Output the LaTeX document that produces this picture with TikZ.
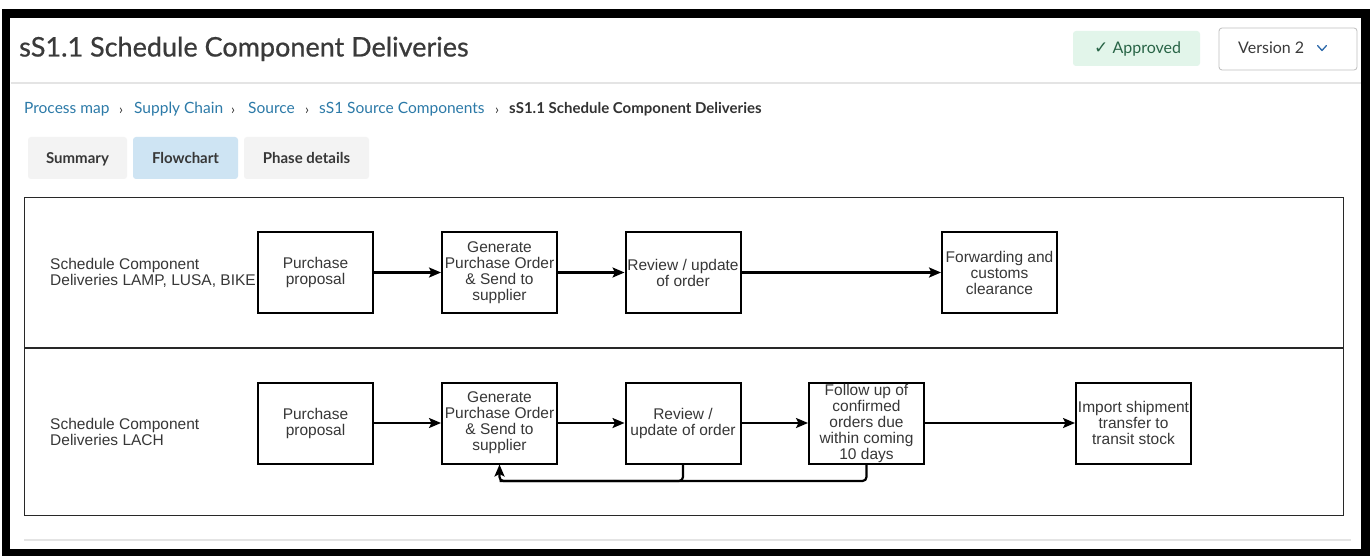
\documentclass[tikz,border=0pt]{standalone}
\usepackage{fontspec}
\setmainfont{Lato}
\newfontfamily\titlefont[FakeBold=0.7]{Lato}
\newfontfamily\flowfont{Liberation Sans}
\newfontfamily\symfont{DejaVu Sans}
\usetikzlibrary{arrows.meta}

\definecolor{titlegray}{RGB}{58,58,58}
\definecolor{linkblue}{RGB}{44,122,168}
\definecolor{crumbgray}{RGB}{50,50,50}
\definecolor{rulegray}{RGB}{228,228,228}
\definecolor{okbg}{RGB}{226,245,234}
\definecolor{okfg}{RGB}{40,100,70}
\definecolor{btnborder}{RGB}{190,190,190}
\definecolor{chevblue}{RGB}{45,105,170}
\definecolor{tabgray}{RGB}{243,243,243}
\definecolor{tabblue}{RGB}{206,228,243}
\definecolor{tabtext}{RGB}{55,55,55}
\definecolor{flowtext}{RGB}{55,55,55}
\definecolor{panelline}{RGB}{40,40,40}

\tikzset{
  crumb/.style={anchor=base west, inner sep=0pt, text=linkblue, font=\fontsize{15.5}{18}\selectfont},
  crumbsep/.style={anchor=base, inner sep=0pt, text=crumbgray, font=\fontsize{14}{18}\selectfont},
  tab/.style={rounded corners=3pt, minimum height=42pt, text height=11pt, text depth=0pt,
    text=tabtext, font=\bfseries\fontsize{15}{18}\selectfont},
  flowbox/.style={draw=black, line width=2pt, minimum width=115pt, minimum height=81pt,
    inner sep=0pt, align=center, text=flowtext, font=\flowfont\fontsize{15.5}{16}\selectfont},
  lanelabel/.style={anchor=west, align=left, inner sep=0pt, text=flowtext, font=\flowfont\fontsize{15.5}{16}\selectfont},
  flowarrow/.style={line width=2.2pt, -{Stealth[length=12pt,width=10pt,inset=2.5pt]}},
  flowline/.style={line width=2.2pt}
}

\begin{document}
\begin{tikzpicture}[x=1pt,y=-1pt]
\useasboundingbox (0,0) rectangle (1371,556);
\fill[white] (0,0) rectangle (1371,556);

% screenshot frame
\draw[black, line width=8.5pt] (6,13.5) rectangle (1365.5,553);

% page header
\node[anchor=base west, inner sep=0pt, text=titlegray, font=\titlefont\fontsize{27}{32}\selectfont] (title) at (19,56.5) {sS1.1 Schedule Component Deliveries};
\draw[rulegray, line width=1.5pt] (10.5,83) -- (1361,83);

\node[fill=okbg, rounded corners=3pt, minimum width=127pt, minimum height=35pt, inner sep=0pt] (approved) at (1136.5,48.5) {};
\node[anchor=base west, inner sep=0pt, text=okfg, font=\fontsize{16}{18}\selectfont] (approvedtxt) at (1094,54) {{\symfont\fontsize{17}{18}\selectfont ✓} Approved};

\node[draw=btnborder, line width=0.8pt, rounded corners=3pt, minimum width=138pt, minimum height=42pt, inner sep=0pt] (version) at (1288,49) {};
\node[anchor=base west, inner sep=0pt, text=titlegray, font=\fontsize{16}{18}\selectfont] (versiontxt) at (1238,54) {Version 2};
\coordinate (chev) at (1322,48);
\draw[chevblue, line width=1.3pt, line cap=round, line join=round] ([shift={(-4.5,-2.5)}]chev) -- ([shift={(0,2.5)}]chev) -- ([shift={(4.5,-2.5)}]chev);

% breadcrumb trail
\node[crumb] (c1) at (24,114) {Process map};
\node[crumbsep] (s1) at (121,114.5) {›};
\node[crumb] (c2) at (134,114) {Supply Chain};
\node[crumbsep] (s2) at (233,114.5) {›};
\node[crumb] (c3) at (248,114) {Source};
\node[crumbsep] (s3) at (307,114.5) {›};
\node[crumb] (c4) at (319,114) {sS1 Source Components};
\node[crumbsep] (s4) at (497,114.5) {›};
\node[crumb, text=crumbgray, font=\bfseries\fontsize{15}{18}\selectfont] (c5) at (509,114) {sS1.1 Schedule Component Deliveries};

% tabs
\node[tab, fill=tabgray, minimum width=99pt] (tsum) at (77.5,158) {Summary};
\node[tab, fill=tabblue, minimum width=105pt] (tflow) at (185.5,158) {Flowchart};
\node[tab, fill=tabgray, minimum width=125pt] (tphase) at (306.5,158) {Phase details};

% flowchart panel with two lanes
\draw[panelline, line width=1pt] (24,198) rectangle (1343,515);
\draw[panelline, line width=2pt] (24,348) -- (1343,348);
\draw[rulegray, line width=1.2pt] (24,540) -- (1351,540);

% lane 1
\node[lanelabel] (lane1) at (50,273) {Schedule Component\\Deliveries LAMP, LUSA, BIKE};
\node[flowbox] (p1) at (315.5,272.5) {Purchase\\proposal};
\node[flowbox] (g1) at (499.5,272.5) {Generate\\Purchase Order\\\& Send to\\supplier};
\node[flowbox] (r1) at (683,272.5) {Review / update\\of order};
\node[flowbox] (f1) at (999.5,272.5) {Forwarding and\\customs\\clearance};
\draw[flowarrow] (p1) -- (g1);
\draw[flowarrow] (g1) -- (r1);
\draw[flowarrow] (r1) -- (f1);

% lane 2
\node[lanelabel] (lane2) at (50,432) {Schedule Component\\Deliveries LACH};
\node[flowbox] (p2) at (315.5,423) {Purchase\\proposal};
\node[flowbox] (g2) at (499.5,423) {Generate\\Purchase Order\\\& Send to\\supplier};
\node[flowbox] (r2) at (683,423) {Review /\\update of order};
\node[flowbox] (u2) at (866.5,423) {Follow up of\\confirmed\\orders due\\within coming\\10 days};
\node[flowbox] (i2) at (1133.5,423) {Import shipment\\transfer to\\transit stock};
\draw[flowarrow] (p2) -- (g2);
\draw[flowarrow] (g2) -- (r2);
\draw[flowarrow] (r2) -- (u2);
\draw[flowarrow] (u2) -- (i2);

% feedback loop back to order generation
\coordinate (loop) at (499.5,481);
\draw[flowarrow, rounded corners=4pt] (u2.south) |- (loop) -- (g2.south);
\draw[flowline, rounded corners=4pt] (r2.south) |- (loop);
\end{tikzpicture}
\end{document}
